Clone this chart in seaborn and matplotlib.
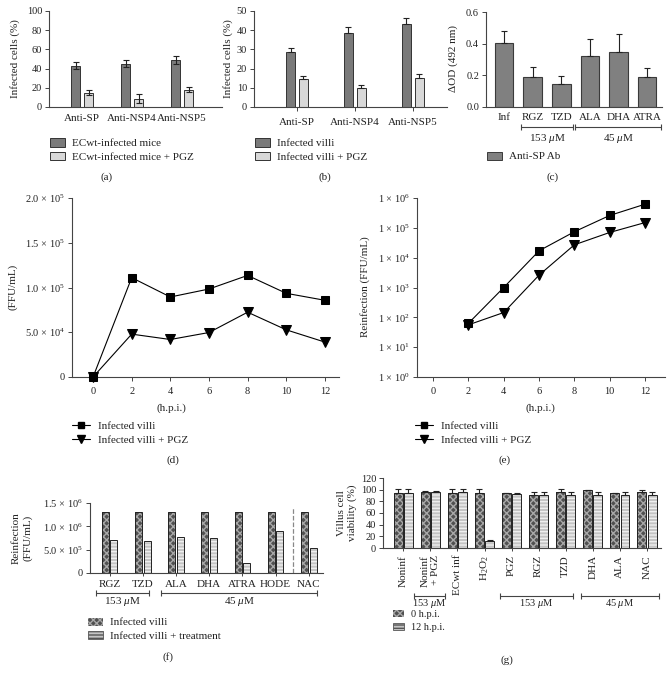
import numpy as np
import pandas as pd
import matplotlib
matplotlib.use("Agg")
import matplotlib.pyplot as plt
import seaborn as sns
from matplotlib.patches import Patch, Rectangle
from matplotlib.lines import Line2D
from matplotlib.transforms import blended_transform_factory

# ---------------- data ----------------
a_cats = ["Anti-SP", "Anti-NSP4", "Anti-NSP5"]
a_groups = ["ECwt-infected mice", "ECwt-infected mice + PGZ"]
a_mice = [43.0, 45.3, 48.8]
a_mice_err = [3.4, 3.5, 4.2]
a_pgz = [15.0, 8.7, 18.1]
a_pgz_err = [2.5, 4.4, 2.8]

b_cats = ["Anti-SP", "Anti-NSP4", "Anti-NSP5"]
b_groups = ["Infected villi", "Infected villi + PGZ"]
b_villi = [28.4, 38.3, 43.0]
b_villi_err = [2.4, 3.5, 3.5]
b_pgz = [14.5, 9.9, 15.3]
b_pgz_err = [1.7, 1.4, 2.1]

c_cats = ["Inf", "RGZ", "TZD", "ALA", "DHA", "ATRA"]
c_vals = [0.403, 0.189, 0.144, 0.322, 0.346, 0.187]
c_err = [0.074, 0.066, 0.051, 0.106, 0.114, 0.061]
c_legend = "Anti-SP Ab"

hpi = [0, 2, 4, 6, 8, 10, 12]
d_villi = [0, 1.11e5, 0.894e5, 0.983e5, 1.135e5, 0.935e5, 0.857e5]
d_pgz = [0, 0.479e5, 0.419e5, 0.497e5, 0.724e5, 0.527e5, 0.39e5]
d_yticks = [0, 5e4, 1e5, 1.5e5, 2e5]
d_yticklabels = ["0", "5.0 × 10$^{4}$", "1.0 × 10$^{5}$", "1.5 × 10$^{5}$", "2.0 × 10$^{5}$"]
line_series = ["Infected villi", "Infected villi + PGZ"]

e_hpi = [2, 4, 6, 8, 10, 12]
e_villi = [63, 1.0e3, 1.7e4, 7.4e4, 2.6e5, 6.2e5]
e_pgz = [56, 145, 2.6e3, 2.7e4, 7.0e4, 1.5e5]
e_yticks = [1e0, 1e1, 1e2, 1e3, 1e4, 1e5, 1e6]
e_yticklabels = ["1 × 10$^{0}$", "1 × 10$^{1}$", "1 × 10$^{2}$", "1 × 10$^{3}$",
                 "1 × 10$^{4}$", "1 × 10$^{5}$", "1 × 10$^{6}$"]

f_cats = ["RGZ", "TZD", "ALA", "DHA", "ATRA", "HODE", "NAC"]
f_groups = ["Infected villi", "Infected villi + treatment"]
f_villi = [1.3e6, 1.3e6, 1.3e6, 1.3e6, 1.3e6, 1.3e6, 1.3e6]
f_treat = [0.70e6, 0.68e6, 0.77e6, 0.745e6, 0.225e6, 0.895e6, 0.53e6]
f_yticks = [0, 5e5, 1e6, 1.5e6]
f_yticklabels = ["0", "5.0 × 10$^{5}$", "1.0 × 10$^{6}$", "1.5 × 10$^{6}$"]

g_cats = ["Noninf", "Noninf\n+ PGZ", "ECwt inf", "H$_2$O$_2$", "PGZ", "RGZ", "TZD", "DHA", "ALA", "NAC"]
g_groups = ["0 h.p.i.", "12 h.p.i."]
g_h0 = [93.7, 96.6, 93.7, 93.7, 93.7, 91.4, 96.6, 98.9, 93.7, 96.0]
g_h0_err = [7.0, 0.6, 7.0, 7.0, 0.6, 4.0, 4.0, 0.6, 0.6, 4.0]
g_h12 = [93.7, 96.0, 96.0, 12.6, 92.6, 91.4, 91.4, 91.4, 91.4, 91.4]
g_h12_err = [7.0, 1.5, 4.6, 1.0, 1.0, 4.0, 4.0, 4.0, 4.0, 4.0]

# ---------------- style ----------------
W, H = 672, 679
sns.set_theme(style="ticks")
plt.rcParams.update({
    "font.family": ["Liberation Serif", "DejaVu Serif"],
    "font.size": 8,
    "mathtext.fontset": "custom",
    "mathtext.rm": "Liberation Serif",
    "mathtext.it": "Liberation Serif:italic",
    "mathtext.bf": "Liberation Serif:bold",
    "axes.edgecolor": "#444444",
    "axes.linewidth": 0.8,
    "xtick.color": "#444444",
    "ytick.color": "#444444",
    "xtick.labelcolor": "#222222",
    "ytick.labelcolor": "#222222",
    "xtick.labelsize": 7.5,
    "ytick.labelsize": 7.5,
    "text.color": "#222222",
    "hatch.linewidth": 1.0,
})

fig = plt.figure(figsize=(W / 100, H / 100), dpi=100)

DARK = "#7a7a7a"
LIGHT = "#d8d8d8"
EDGE = "#333333"


def add_ax(l, t, r, b):
    return fig.add_axes([l / W, 1 - b / H, (r - l) / W, (b - t) / H])


def ftext(x, y, s, **kw):
    kw.setdefault("ha", "center")
    kw.setdefault("va", "center")
    fig.text(x / W, 1 - y / H, s, **kw)


def style(ax, xtick_len=3):
    sns.despine(ax=ax)
    ax.tick_params(axis="y", length=3, width=0.7, pad=2)
    ax.tick_params(axis="x", length=xtick_len, width=0.7, pad=2)
    ax.set_xlabel("")
    ax.set_ylabel("")


def add_err(ax, container, errs, both=False):
    xs = [p.get_x() + p.get_width() / 2 for p in container]
    ys = [p.get_height() for p in container]
    lower = errs if both else [0] * len(errs)
    ax.errorbar(xs, ys, yerr=[lower, errs], fmt="none", ecolor="#222222",
                elinewidth=0.8, capsize=2.5, capthick=0.8, zorder=5)


def bracket(ax, x0, x1, y, label, ty, fs=8):
    tr = blended_transform_factory(ax.transData, ax.transAxes)
    ax.plot([x0, x1], [y, y], transform=tr, color="#444444", lw=0.8,
            marker="|", markersize=4, markeredgewidth=0.8, clip_on=False)
    ax.text((x0 + x1) / 2, ty, label, transform=tr, ha="center", va="center", fontsize=fs)


def hatch_bars(ax, container, face, hatch, hcolor):
    for p in container:
        p.set_facecolor(face)
        p.set_hatch(hatch)
        p.set_edgecolor(hcolor)
        p.set_linewidth(0)
        ax.add_patch(Rectangle(p.get_xy(), p.get_width(), p.get_height(), fill=False,
                               ec="#222222", lw=0.7, zorder=p.get_zorder() + 0.1))


def fig_legend(ax, handles, labels, x, y, **kw):
    opts = dict(loc="upper left", bbox_to_anchor=(x / W, 1 - y / H),
                bbox_transform=fig.transFigure, frameon=False, borderpad=0,
                borderaxespad=0, handlelength=1.35, handleheight=0.75,
                handletextpad=0.6, labelspacing=0.3, fontsize=8)
    opts.update(kw)
    ax.legend(handles, labels, **opts)


# ---------------- (a) ----------------
ax = add_ax(49, 11, 222, 107)
df = pd.DataFrame({"cat": a_cats * 2,
                   "grp": [a_groups[0]] * 3 + [a_groups[1]] * 3,
                   "val": a_mice + a_pgz})
sns.barplot(data=df, x="cat", y="val", hue="grp", order=a_cats, hue_order=a_groups,
            palette={a_groups[0]: DARK, a_groups[1]: LIGHT}, width=0.52, gap=0.31,
            edgecolor=EDGE, linewidth=0.7, errorbar=None, legend=False, ax=ax)
add_err(ax, ax.containers[0], a_mice_err, both=True)
add_err(ax, ax.containers[1], a_pgz_err, both=True)
ax.set_ylim(0, 100)
ax.set_yticks([0, 20, 40, 60, 80, 100])
ax.set_xlim(-0.66, 2.8)
style(ax, xtick_len=0)
ax.tick_params(axis="x", labelsize=8, pad=5)
ftext(15, 59, "Infected cells (%)", rotation=90)
fig_legend(ax, [Patch(fc=DARK, ec=EDGE, lw=0.7), Patch(fc=LIGHT, ec=EDGE, lw=0.7)],
           a_groups, 50, 138.5)
ftext(107, 177, "(a)")

# ---------------- (b) ----------------
ax = add_ax(254, 11, 447, 107)
df = pd.DataFrame({"cat": b_cats * 2,
                   "grp": [b_groups[0]] * 3 + [b_groups[1]] * 3,
                   "val": b_villi + b_pgz})
sns.barplot(data=df, x="cat", y="val", hue="grp", order=b_cats, hue_order=b_groups,
            palette={b_groups[0]: DARK, b_groups[1]: LIGHT}, width=0.44, gap=0.3,
            edgecolor=EDGE, linewidth=0.7, errorbar=None, legend=False, ax=ax)
add_err(ax, ax.containers[0], b_villi_err)
add_err(ax, ax.containers[1], b_pgz_err)
ax.set_ylim(0, 50)
ax.set_yticks([0, 10, 20, 30, 40, 50])
ax.set_xlim(-0.74, 2.59)
style(ax)
ax.tick_params(axis="x", labelsize=8, pad=5)
ftext(228, 59, "Infected cells (%)", rotation=90)
fig_legend(ax, [Patch(fc=DARK, ec=EDGE, lw=0.7), Patch(fc=LIGHT, ec=EDGE, lw=0.7)],
           b_groups, 255, 138.5)
ftext(325, 177, "(b)")

# ---------------- (c) ----------------
ax = add_ax(486, 12, 662, 107)
sns.barplot(x=c_cats, y=c_vals, color="#808080", width=0.65, edgecolor="#3a3a3a",
            linewidth=0.8, errorbar=None, ax=ax, saturation=1)
add_err(ax, ax.containers[0], c_err)
ax.set_ylim(0, 0.6)
ax.set_yticks([0.0, 0.2, 0.4, 0.6])
ax.set_yticklabels(["0.0", "0.2", "0.4", "0.6"])
ax.set_xlim(-0.63, 5.52)
style(ax, xtick_len=0)
ax.tick_params(axis="x", labelsize=8, pad=4)
bracket(ax, 0.59, 2.41, -0.21, "153 $\\mu$M", -0.33)
bracket(ax, 2.48, 5.49, -0.21, "45 $\\mu$M", -0.33)
ftext(453, 59, "ΔOD (492 nm)", rotation=90)
fig_legend(ax, [Patch(fc="#808080", ec="#3a3a3a", lw=0.7)], [c_legend], 487, 151.5)
ftext(553, 177, "(c)")

# ---------------- (d) ----------------
ax = add_ax(72, 198, 339, 377)
sns.lineplot(x=hpi, y=d_villi, color="black", marker="s", markersize=6,
             markeredgecolor="black", linewidth=0.8, ax=ax, zorder=3)
sns.lineplot(x=hpi, y=d_pgz, color="black", marker="v", markersize=6.5,
             markeredgecolor="black", linewidth=0.8, ax=ax, zorder=3)
ax.set_ylim(0, 2e5)
ax.set_yticks(d_yticks)
ax.set_yticklabels(d_yticklabels)
ax.set_xlim(-1.09, 12.73)
ax.set_xticks(hpi)
style(ax)
ax.tick_params(axis="x", pad=4)
for a in ax.lines:
    a.set_clip_on(False)
ftext(13, 287, "(FFU/mL)", rotation=90)
ftext(171, 408, "(h.p.i.)")
lh = [Line2D([], [], color="black", lw=0.8, marker="s", markersize=5),
      Line2D([], [], color="black", lw=0.8, marker="v", markersize=5.5)]
fig_legend(ax, lh, line_series, 72, 421.5, handlelength=1.6, handletextpad=0.7)
ftext(173, 460, "(d)")

# ---------------- (e) ----------------
ax = add_ax(417, 198, 665, 377)
ax.set_yscale("log")
sns.lineplot(x=e_hpi, y=e_villi, color="black", marker="s", markersize=6,
             markeredgecolor="black", linewidth=0.8, ax=ax, zorder=3)
sns.lineplot(x=e_hpi, y=e_pgz, color="black", marker="v", markersize=6.5,
             markeredgecolor="black", linewidth=0.8, ax=ax, zorder=3)
ax.set_ylim(1, 1e6)
ax.set_yticks(e_yticks)
ax.set_yticklabels(e_yticklabels)
ax.yaxis.set_minor_locator(matplotlib.ticker.NullLocator())
ax.set_xlim(-0.91, 13.13)
ax.set_xticks(hpi)
style(ax)
ax.tick_params(axis="x", pad=4)
for a in ax.lines:
    a.set_clip_on(False)
ftext(365, 287, "Reinfection (FFU/mL)", rotation=90)
ftext(540, 408, "(h.p.i.)")
fig_legend(ax, lh, line_series, 415, 421.5, handlelength=1.6, handletextpad=0.7)
ftext(505, 460, "(e)")

# ---------------- (f) ----------------
HDARK = "#505050"
HDARK_H = "#a8a8a8"
HLIGHT = "#c4c4c4"
HLIGHT_H = "#efefef"
ax = add_ax(90, 503, 323, 573)
df = pd.DataFrame({"cat": f_cats * 2,
                   "grp": [f_groups[0]] * 7 + [f_groups[1]] * 7,
                   "val": f_villi + f_treat})
sns.barplot(data=df, x="cat", y="val", hue="grp", order=f_cats, hue_order=f_groups,
            palette={f_groups[0]: HDARK, f_groups[1]: HLIGHT}, width=0.52, gap=0.19,
            errorbar=None, legend=False, ax=ax, saturation=1)
hatch_bars(ax, ax.containers[0], HDARK, "xxxxx", HDARK_H)
hatch_bars(ax, ax.containers[1], HLIGHT, "-----", HLIGHT_H)
ax.axvline(5.53, ymax=0.95, color="#888888", ls="--", lw=0.9)
ax.set_ylim(0, 1.5e6)
ax.set_yticks(f_yticks)
ax.set_yticklabels(f_yticklabels)
ax.set_xlim(-0.59, 6.43)
style(ax, xtick_len=2)
ax.tick_params(axis="x", labelsize=8, pad=3)
bracket(ax, -0.41, 1.19, -0.29, "153 $\\mu$M", -0.40)
bracket(ax, 1.55, 6.25, -0.29, "45 $\\mu$M", -0.40)
ftext(22, 538, "Reinfection\n(FFU/mL)", rotation=90, multialignment="center")
fh = [Patch(fc=HDARK, ec=HDARK_H, hatch="xxxxx", lw=0),
      Patch(fc=HLIGHT, ec="#555555", hatch="-----", lw=0.6)]
fig_legend(ax, fh, f_groups, 88, 617.5)
ftext(168, 657, "(f)")

# ---------------- (g) ----------------
ax = add_ax(383, 478, 661, 548)
df = pd.DataFrame({"cat": g_cats * 2,
                   "grp": [g_groups[0]] * 10 + [g_groups[1]] * 10,
                   "val": g_h0 + g_h12})
sns.barplot(data=df, x="cat", y="val", hue="grp", order=g_cats, hue_order=g_groups,
            palette={g_groups[0]: HDARK, g_groups[1]: HLIGHT}, width=0.76, gap=0.13,
            errorbar=None, legend=False, ax=ax, saturation=1)
hatch_bars(ax, ax.containers[0], HDARK, "xxxxx", HDARK_H)
hatch_bars(ax, ax.containers[1], HLIGHT, "-----", HLIGHT_H)
add_err(ax, ax.containers[0], g_h0_err)
add_err(ax, ax.containers[1], g_h12_err)
ax.set_ylim(0, 120)
ax.set_yticks([0, 20, 40, 60, 80, 100, 120])
ax.set_xlim(-0.75, 9.52)
style(ax, xtick_len=2)
ax.set_xticks(range(len(g_cats)))
ax.set_xticklabels(g_cats, rotation=90, ha="center", va="top", multialignment="right",
                   fontsize=8)
ax.tick_params(axis="x", pad=3)
bracket(ax, 0.40, 1.54, -0.686, "153 $\\mu$M", -0.79, fs=7.5)
bracket(ax, 3.57, 6.26, -0.686, "153 $\\mu$M", -0.79, fs=7.5)
bracket(ax, 6.56, 9.44, -0.686, "45 $\\mu$M", -0.79, fs=7.5)
ftext(347, 513, "Villus cell\nviability (%)", rotation=90, multialignment="center")
fig_legend(ax, fh, g_groups, 393, 609.5, handlelength=1.1, labelspacing=0.35,
           fontsize=7.5)
ftext(507, 660, "(g)")

fig.savefig("out.png", dpi=100)
